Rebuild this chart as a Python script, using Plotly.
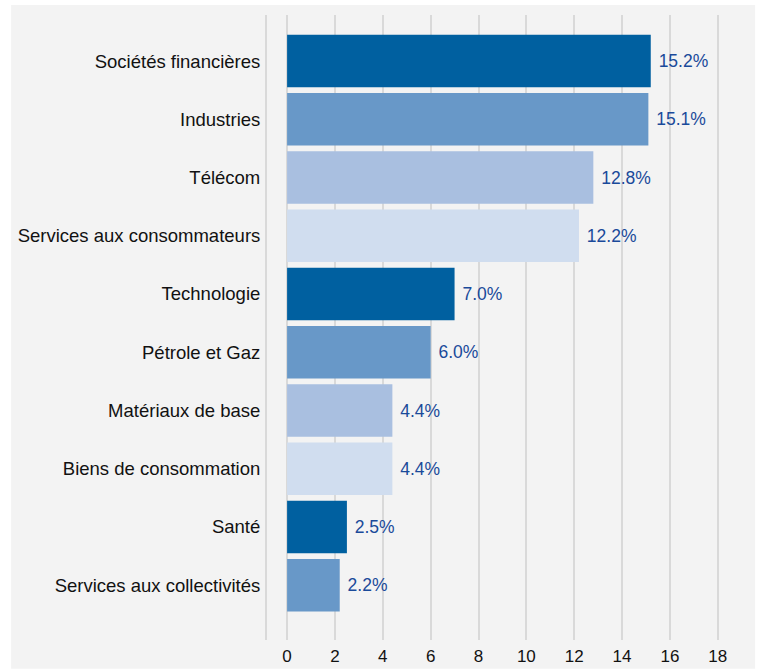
import plotly.graph_objects as go

# sector weights (%), top to bottom
sectors = [
    "Sociétés financières",
    "Industries",
    "Télécom",
    "Services aux consommateurs",
    "Technologie",
    "Pétrole et Gaz",
    "Matériaux de base",
    "Biens de consommation",
    "Santé",
    "Services aux collectivités",
]
weights = [15.2, 15.1, 12.8, 12.2, 7.0, 6.0, 4.4, 4.4, 2.5, 2.2]
palette = ["#0060a0", "#6898c8", "#a9bfe0", "#d0ddef"]
x_ticks = [0, 2, 4, 6, 8, 10, 12, 14, 16, 18]

bar_colors = [palette[i % len(palette)] for i in range(len(sectors))]
labels = [f" {v:.1f}%" for v in weights]

fig = go.Figure(go.Bar(
    x=weights,
    y=sectors,
    orientation="h",
    marker=dict(color=bar_colors, line=dict(width=0)),
    text=labels,
    textposition="outside",
    cliponaxis=False,
    textfont=dict(color="#1a4a9a", size=17.5),
    width=0.9,
))

fig.update_layout(
    width=757,
    height=669,
    margin=dict(l=267, r=17, t=15, b=29),
    paper_bgcolor="white",
    plot_bgcolor="#f3f3f3",
    font=dict(family="Liberation Sans, Arial, sans-serif", size=18.5, color="#111111"),
    showlegend=False,
    shapes=[dict(
        type="rect", xref="paper", yref="paper",
        x0=-0.541, x1=1.032, y0=-0.046, y1=1.016,
        fillcolor="#f3f3f3", line=dict(width=0), layer="below",
    )],
)

fig.update_xaxes(
    range=[-0.84, 18.93],
    tickvals=x_ticks,
    showgrid=True,
    gridcolor="#d9d9d9",
    gridwidth=2,
    zeroline=False,
    showline=False,
    ticks="",
    ticklabelstandoff=4,
    automargin=False,
    tickfont=dict(size=17, color="#111111"),
)
fig.update_yaxes(
    categoryorder="array",
    categoryarray=sectors,
    range=[9.94, -0.79],
    showgrid=False,
    showline=True,
    linecolor="#d9d9d9",
    linewidth=2,
    ticks="",
    ticklabelstandoff=1,
    automargin=False,
    tickfont=dict(size=18.5, color="#111111"),
)

fig.write_html(
    "out.html",
    config={"displayModeBar": False},
    post_script="document.body.style.margin='0';",
)
